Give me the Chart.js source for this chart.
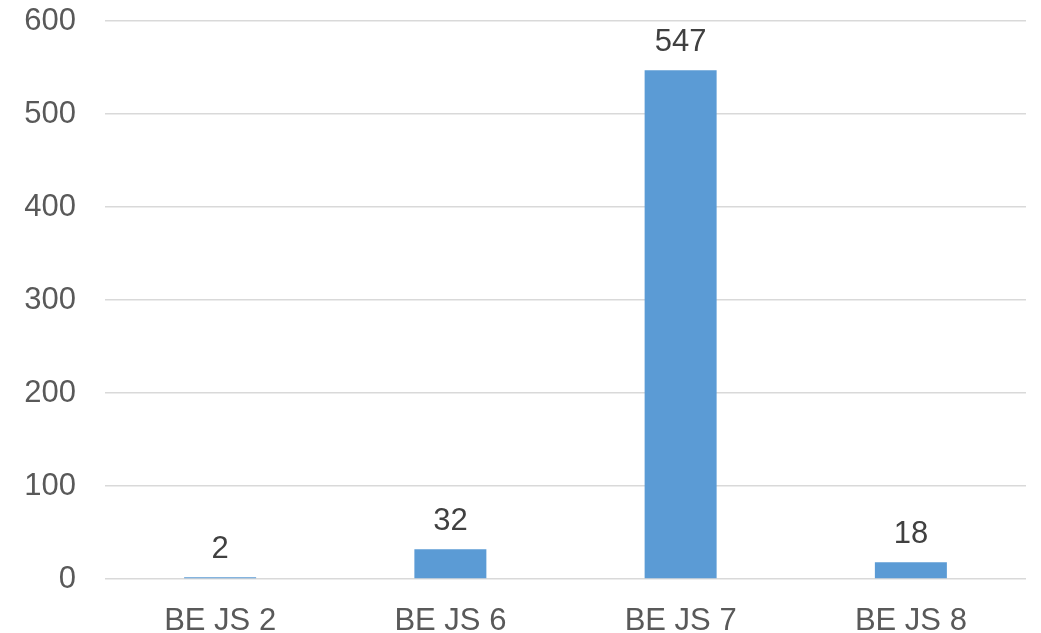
<!DOCTYPE html>
<html>
<head>
<meta charset="utf-8">
<script src="https://cdn.jsdelivr.net/npm/chart.js@4"></script>
<style>
html,body{margin:0;padding:0;background:#fff;}
#wrap{width:1041px;height:633px;position:relative;}
</style>
</head>
<body>
<div id="wrap"><canvas id="c"></canvas></div>
<script>
const categories = ["BE JS 2", "BE JS 6", "BE JS 7", "BE JS 8"];
const values = [2, 32, 547, 18];
const yTicks = [0, 100, 200, 300, 400, 500, 600];

const FONT = "'Liberation Sans', Arial, sans-serif";

const dataLabels = {
  id: 'dataLabels',
  afterDatasetsDraw(chart) {
    const ctx = chart.ctx;
    const meta = chart.getDatasetMeta(0);
    ctx.save();
    ctx.font = "31px " + FONT;
    ctx.fillStyle = "#404040";
    ctx.textAlign = "center";
    ctx.textBaseline = "alphabetic";
    meta.data.forEach((bar, i) => {
      ctx.fillText(String(values[i]), bar.x, bar.y - 19);
    });
    ctx.restore();
  }
};

new Chart(document.getElementById('c'), {
  type: 'bar',
  data: {
    labels: categories,
    datasets: [{
      data: values,
      backgroundColor: '#5B9BD5',
      borderWidth: 0,
      barPercentage: 1,
      categoryPercentage: 0.3127
    }]
  },
  options: {
    responsive: true,
    maintainAspectRatio: false,
    animation: false,
    layout: { padding: { top: 21, right: 15, left: 0, bottom: 0 } },
    plugins: { legend: { display: false }, tooltip: { enabled: false } },
    scales: {
      x: {
        grid: { display: false, drawTicks: false },
        border: { display: false },
        ticks: { color: '#595959', font: { family: FONT, size: 31 }, padding: 24, maxRotation: 0 },
        afterFit(scale) { scale.height = 54; scale.paddingLeft = 0; scale.paddingRight = 0; }
      },
      y: {
        min: yTicks[0],
        max: yTicks[yTicks.length - 1],
        afterBuildTicks(scale) { scale.ticks = yTicks.map(v => ({ value: v })); },
        grid: { color: '#D9D9D9', lineWidth: 1.5, drawTicks: false },
        border: { display: false },
        ticks: { color: '#595959', font: { family: FONT, size: 31 }, padding: 29 },
        afterFit(scale) { scale.width = 105; scale.paddingTop = 0; scale.paddingBottom = 0; }
      }
    }
  },
  plugins: [dataLabels]
});
</script>
</body>
</html>
